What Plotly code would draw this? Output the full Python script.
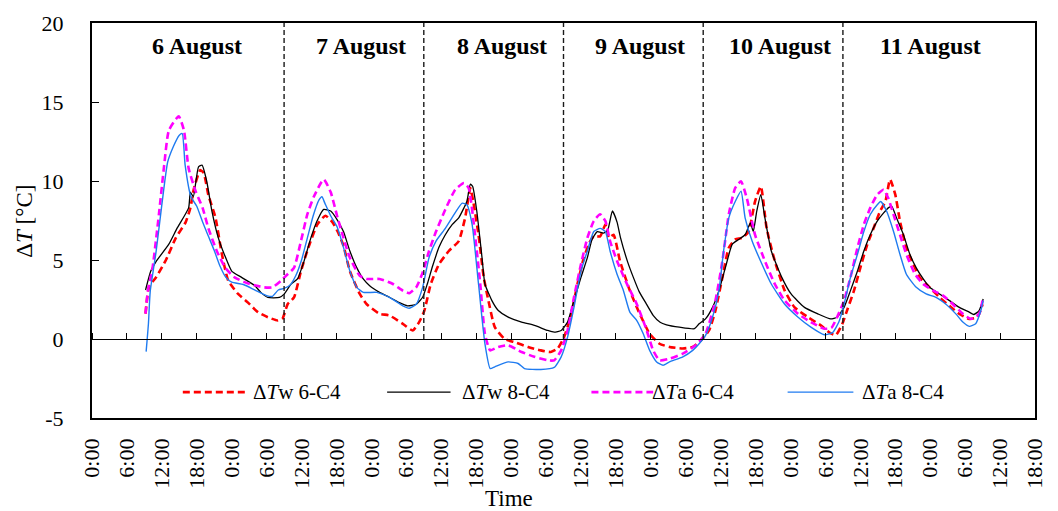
import plotly.graph_objects as go

# ---------------- data (hours from 6 Aug 0:00, value in °C) ----------------
tw6_t = [9.2, 9.8, 11, 12.7, 14.4, 16.1, 16.9, 17.5, 18.6, 19.2, 20, 21.2, 22.3, 23.4, 25.1, 26.8, 28.5, 30.2,
         31.9, 32.7, 33.6, 34.7, 35.9, 37, 38.7, 40.1, 41.3, 42.2, 43.2, 44.3, 46, 47.2, 49.4, 51.1, 53.4, 55.1,
         56.2, 57.1, 58.2, 59.6, 61.3, 63, 64.1, 65, 65.5, 66.4, 67.3, 68.1, 69.2, 70.9, 72.6, 74.9, 77.1, 78.8,
         80, 81.1, 82.2, 83.4, 84.5, 85.6, 86.2, 87.3, 88.2, 88.8, 89.6, 90.7, 92.4, 94.1, 95.8, 97.5, 99.2,
         101.5, 103.2, 104.6, 106, 107.1, 108.3, 109.4, 110.5, 111.7, 112.8, 113.9, 114.9, 115.9, 117.3, 119,
         120.7, 123, 125.2, 126.9, 127.8, 128.9, 129.8, 130.9, 132, 133.2, 134.3, 135.4, 136.3, 137.1, 138,
         138.8, 139.9, 141.1, 142.2, 143.9, 145.6, 147.3, 149, 150.7, 152.1, 153]
tw6_v = [1.6, 3.3, 3.9, 5.0, 6.4, 7.4, 8.3, 9.5, 10.7, 10.5, 9.1, 7.7, 5.4, 3.7, 2.85, 2.3, 1.7, 1.38,
         1.17, 1.27, 2.2, 2.63, 4.3, 5.6, 7.25, 7.8, 7.4, 6.8, 5.9, 4.3, 2.85, 2.2, 1.6, 1.49, 0.96, 0.54,
         1.07, 1.8, 3.48, 4.73, 5.57, 6.2, 7.67, 9.56, 8.7, 6.6, 3.9, 2.43, 0.75, 0.0, -0.2, -0.5, -0.72, -0.82,
         -0.6, 0.12, 1.38, 3.48, 5.15, 6.2, 6.5, 6.5, 7.25, 6.4, 6.6, 4.94, 3.06, 1.59, 0.33, -0.3, -0.5,
         -0.6, -0.5, -0.1, 0.54, 1.8, 3.9, 5.78, 6.3, 6.4, 6.8, 8.7, 9.66, 7.0, 4.94, 3.06,
         2.0, 1.38, 0.86, 0.35, 0.25, 0.96, 1.9, 3.06, 4.52, 6.0, 7.04, 8.1, 8.7, 10.1, 9.14,
         7.46, 5.78, 4.73, 3.9, 3.27, 2.64, 2.1, 1.59, 1.27, 1.38, 2.2]

tw8_t = [9.2, 10.1, 11, 13.2, 14.6, 16.6, 16.9, 17.4, 18.3, 18.9, 19.7, 20.6, 21.7, 22.9, 24, 25.7, 27.9, 29,
         30.2, 32.2, 33, 34.2, 35.3, 36.4, 37.6, 38.7, 39.8, 41, 42.1, 43.2, 44.3, 45.5, 46.6, 47.7, 49.4,
         51.1, 52.8, 54.2, 55.7, 56.8, 57.6, 58.5, 59.6, 60.7, 61.9, 63, 63.9, 64.4, 65, 65.4, 66.1, 67, 67.5,
         68.7, 69.8, 71.5, 73.8, 76, 78.3, 79.4, 80.6, 81.7, 82.8, 84, 85.1, 85.9, 86.8, 87.9, 88.6, 89.4,
         90.2, 90.8, 92, 93, 94, 95.2, 96.4, 97.6, 98.7, 100.9, 103.5, 104.3, 105.4, 106.6, 107.7, 108.8, 110,
         111.1, 112.2, 113.1, 113.6, 114.2, 114.9, 115.6, 116.7, 118.5, 120.1, 122.4, 124.7, 126.9, 128, 129.2,
         130.3, 131.5, 132.6, 133.7, 134.9, 136, 136.8, 137.4, 138.2, 139.4, 140.5, 141.6, 142.8, 143.9, 145.6,
         147.3, 149, 150.7, 151.5, 152.4, 153.1]
tw8_v = [3.1, 4.3, 4.9, 6.0, 7.0, 8.3, 9.3, 9.0, 10.9, 11.0, 10.0, 8.1, 6.4, 5.2, 4.3, 3.9, 3.4, 2.95,
         2.63, 2.63, 2.84, 3.47, 3.8, 4.9, 6.4, 7.5, 8.2, 8.1, 7.56, 6.8, 5.57, 4.5, 3.8, 3.37, 2.95,
         2.64, 2.3, 2.1, 2.2, 2.64, 3.48, 4.6, 5.8, 6.6, 7.25, 7.67, 8.3, 8.7, 9.8, 9.65, 8.1, 5.15, 3.48,
         2.43, 1.8, 1.38, 1.07, 0.86, 0.54, 0.44, 0.54, 1.07, 2.43, 3.9, 5.15, 6.3, 6.8, 6.7, 6.9, 8.1,
         7.4, 6.4, 4.9, 3.9, 3.0, 2.24, 1.5, 1.06, 0.9, 0.75, 0.65, 0.96, 1.27, 2.0, 3.06, 4.5, 6.0,
         6.3, 6.6, 7.35, 6.8, 8.1, 9.14, 7.67, 5.57, 3.9, 2.85, 2.0, 1.59, 1.27, 1.38, 2.0,
         3.06, 4.3, 5.57, 6.6, 7.46, 7.98, 8.3, 8.4, 7.67, 6.6, 5.36, 4.5, 3.8, 3.27, 2.85,
         2.43, 2.0, 1.7, 1.55, 1.8, 2.53]

ta6_t = [9.2, 9.6, 10.4, 11.5, 12.4, 13.2, 14.9, 15.8, 16.6, 17.8, 19, 20, 21.4, 22.9, 24.5, 26.2, 27.9, 29.6,
         31, 32.5, 33.6, 34.7, 35.9, 37, 38.1, 39.8, 41, 42.1, 43.2, 44.3, 46, 47.2, 49.4, 51.7, 53.4, 54.5,
         55.7, 56.8, 57.9, 59.1, 60.7, 62.4, 63.9, 64.7, 65.8, 66.7, 67.5, 68.4, 69.8, 71.5, 73.8, 76, 78.3,
         79.4, 80.6, 81.7, 82.8, 84, 85.1, 86.2, 87.3, 88.2, 89, 90.2, 91.9, 93.6, 95.3, 96.4, 97.5, 99.2,
         101.5, 103.7, 105.4, 107.1, 108.3, 109.4, 110.5, 111.5, 112.5, 113.9, 115.6, 117.3, 119, 121.3, 123.5,
         125.8, 127, 128, 129.2, 130.3, 131.5, 132.6, 133.7, 134.9, 136, 136.8, 137.7, 138.8, 139.9, 141.4,
         142.8, 144.5, 146.2, 147.9, 149.6, 151, 152.4, 153]
ta6_v = [1.6, 3.05, 4.5, 7.9, 11.0, 13.2, 14.1, 13.2, 10.8, 9.35, 8.3, 7.0, 5.6, 4.5, 3.9, 3.6, 3.4, 3.27,
         3.27, 3.7, 4.1, 4.5, 6.2, 7.9, 9.0, 10.1, 9.3, 7.8, 6.4, 5.15, 4.0, 3.8, 3.8, 3.48, 3.06, 2.9,
         3.27, 4.2, 5.57, 6.8, 8.2, 9.45, 9.87, 9.56, 6.6, 3.48, 0.33, -0.72, -0.5, -0.4, -0.82, -1.13, -1.35,
         -1.35, -0.72, 0.54, 2.64, 4.73, 6.4, 7.46, 7.9, 7.46, 6.2, 4.94, 3.48, 2.2, 0.54, -0.72, -1.35, -1.25,
         -0.93, -0.4, 0.33, 2.43, 4.94, 7.9, 9.56, 9.98, 8.9, 6.6, 4.94, 3.48, 2.43, 1.59, 1.07,
         0.65, 0.7, 1.38, 2.43, 3.9, 5.78, 7.25, 8.3, 9.14, 9.45, 8.9, 7.88, 6.6, 5.36, 4.1,
         3.48, 3.06, 2.75, 2.2, 1.59, 1.27, 1.59, 2.43]

ta8_t = [9.3, 9.7, 10, 11, 12, 13, 14, 15, 15.5, 16, 17, 18, 19, 20, 21, 22, 23, 24, 26, 28, 30, 31, 32, 33,
         34, 35, 36, 37, 38, 39, 39.5, 40, 41, 42.1, 43.2, 44.3, 45.5, 46.6, 48.9, 51.1, 53.4, 54.5, 55.7,
         56.8, 57.9, 59.1, 60.7, 62.4, 63.6, 64.4, 65.3, 66.4, 67.5, 68.4, 69.2, 71.5, 73.2, 74.3, 77.1, 79.4,
         80.6, 81.7, 82.8, 84, 85.1, 86.2, 87.3, 88.2, 89, 90.2, 91.3, 92.4, 93.6, 94.7, 95.8, 97, 98.1, 99.2,
         101.5, 103.2, 104.3, 105.4, 106.6, 107.7, 108.5, 109.4, 110.5, 111.5, 112.2, 113.4, 115.1, 116.7, 119,
         121.3, 123.5, 125.8, 127.2, 128.3, 129.2, 130.3, 131.5, 132.6, 133.7, 134.9, 135.5, 136.5, 137.7,
         138.8, 139.9, 141.6, 143.3, 145, 146.7, 148.4, 149.6, 150.7, 151.8, 152.7, 153.1]
ta8_v = [-0.8, 1.0, 3.0, 5.5, 8.5, 11.2, 12.2, 12.9, 13.0, 11.0, 9.0, 8.4, 7.4, 6.5, 5.6, 4.6, 3.9, 3.6, 3.45,
         3.1, 2.75, 2.7, 3.1, 3.2, 3.4, 4.0, 5.0, 6.4, 7.8, 8.8, 9.0, 8.6, 7.8, 7.1, 5.8, 4.3, 3.27, 2.95, 2.95,
         2.64, 2.1, 1.95, 2.2, 3.27, 5.15, 6.2, 7.0, 8.0, 8.6, 8.5, 7.25, 3.48, -0.3, -1.87, -1.76, -1.45, -1.55,
         -1.87, -1.93, -1.8, -1.13, 0.12, 2.0, 4.3, 5.57, 6.8, 7.0, 6.8, 5.57, 4.1, 3.06, 1.7, 1.17, 0.33,
         -0.72, -1.45, -1.66, -1.45, -1.13, -0.72, -0.3, 0.23, 1.38, 3.06, 5.57, 7.67, 8.7, 9.35, 7.67, 6.2,
         4.73, 3.48, 2.2, 1.38, 0.75, 0.27, 0.4, 1.07, 2.2, 3.9, 5.36, 6.8, 7.88, 8.5, 8.7, 8.1, 6.8, 5.36,
         4.1, 3.27, 2.85, 2.64, 2.2, 1.59, 1.07, 0.8, 0.96, 1.8, 2.43]

series_names = ["ΔTw 6-C4", "ΔTw 8-C4", "ΔTa 6-C4", "ΔTa 8-C4"]
legend_labels = ["Δ<i>T</i>w 6-C4", "Δ<i>T</i>w 8-C4", "Δ<i>T</i>a 6-C4", "Δ<i>T</i>a 8-C4"]

day_labels = ["6 August", "7 August", "8 August", "9 August", "10 August", "11 August"]
day_label_hours = [18.0, 46.2, 70.4, 94.2, 118.2, 144.1]
day_boundaries = [33, 57, 81, 105, 129]

x_tick_hours = list(range(0, 163, 6))
x_tick_labels = ["0:00", "6:00", "12:00", "18:00"] * 7
y_tick_vals = [-5, 0, 5, 10, 15, 20]
y_tick_labels = ["-5", "0", "5", "10", "15", "20"]

# ---------------- styling ----------------
FONT = "Liberation Serif, Times New Roman, serif"
FS_TICK = 22
FS_LEG = 21
FS_TITLE = 23
FS_DAY = 24
styles = [
    dict(color="#FF0000", width=2.6, dash="7px,4px"),
    dict(color="#000000", width=1.3),
    dict(color="#FF00FF", width=2.6, dash="7px,4px"),
    dict(color="#1F7BF0", width=1.4),
]
data = [(tw6_t, tw6_v), (tw8_t, tw8_v), (ta6_t, ta6_v), (ta8_t, ta8_v)]

fig = go.Figure()

# day dividers (drawn on the overlay axis so that it is rendered)
dx, dy = [], []
for b in day_boundaries:
    dx += [b, b, None]
    dy += [0, 20, None]
fig.add_trace(go.Scatter(x=dx, y=dy, xaxis="x2", mode="lines", showlegend=False, hoverinfo="skip",
                         line=dict(color="#1a1a1a", width=1.4, dash="5px,3px")))

for (t, v), name, st in zip(data, series_names, styles):
    fig.add_trace(go.Scatter(x=t, y=v, mode="lines", name=name, showlegend=False,
                             line=dict(shape="spline", smoothing=0.5, **st)))

# manual legend (inside plot, like the original)
leg_y = -3.36
leg_lines = [(15.6, 26.3), (50.7, 61.6), (85.8, 96.4), (119.5, 130.8)]
leg_text_x = [27.3, 63.3, 95.9, 131.9]
for (x0, x1), tx, lab, st in zip(leg_lines, leg_text_x, legend_labels, styles):
    fig.add_shape(type="line", xref="x", yref="y", x0=x0, x1=x1, y0=leg_y, y1=leg_y,
                  line=dict(color=st["color"], width=st["width"], dash=st.get("dash", "solid")))
    fig.add_annotation(x=tx, y=leg_y, xref="x", yref="y", text=lab, showarrow=False,
                       xanchor="left", yanchor="middle", font=dict(family=FONT, size=FS_LEG, color="black"))

for lab, hx in zip(day_labels, day_label_hours):
    fig.add_annotation(x=hx, y=18.55, xref="x", yref="y", text=f"<b>{lab}</b>", showarrow=False,
                       xanchor="center", yanchor="middle", font=dict(family=FONT, size=FS_DAY, color="black"))

# axis titles
fig.add_annotation(x=-0.0712, y=0.499, xref="paper", yref="paper", text="Δ<i>T</i> [°C]", textangle=-90,
                   showarrow=False, xanchor="center", yanchor="middle",
                   font=dict(family=FONT, size=FS_TITLE, color="black"))
fig.add_annotation(x=0.442, y=-0.203, xref="paper", yref="paper", text="Time",
                   showarrow=False, xanchor="center", yanchor="middle",
                   font=dict(family=FONT, size=FS_TITLE, color="black"))

fig.update_layout(
    width=1058, height=511,
    margin=dict(l=92, r=11, t=21, b=93),
    paper_bgcolor="white", plot_bgcolor="white",
    font=dict(family=FONT, size=FS_TICK, color="black"),
    showlegend=False,
    xaxis=dict(range=[0, 162], tickmode="array", tickvals=x_tick_hours, ticktext=x_tick_labels,
               tickangle=-90, ticks="", showgrid=False, zeroline=False, showline=True, mirror=True,
               linecolor="black", linewidth=1.6, ticklabelstandoff=10,
               tickfont=dict(family=FONT, size=FS_TICK, color="black")),
    xaxis2=dict(range=[0, 162], overlaying="x", anchor="free", position=0.2, side="top",
                tickmode="array", tickvals=x_tick_hours, ticks="outside", ticklen=6, tickwidth=1,
                tickcolor="black", showticklabels=False, showgrid=False, zeroline=False,
                showline=True, linecolor="black", linewidth=1.3),
    yaxis=dict(range=[-5, 20], tickmode="array", tickvals=y_tick_vals, ticktext=y_tick_labels,
               ticks="inside", ticklen=7, tickwidth=1, tickcolor="black", showgrid=False, zeroline=False,
               showline=True, mirror=True, linecolor="black", linewidth=2, ticklabelstandoff=22,
               tickfont=dict(family=FONT, size=FS_TICK, color="black")),
)

fig.write_html("out.html")
